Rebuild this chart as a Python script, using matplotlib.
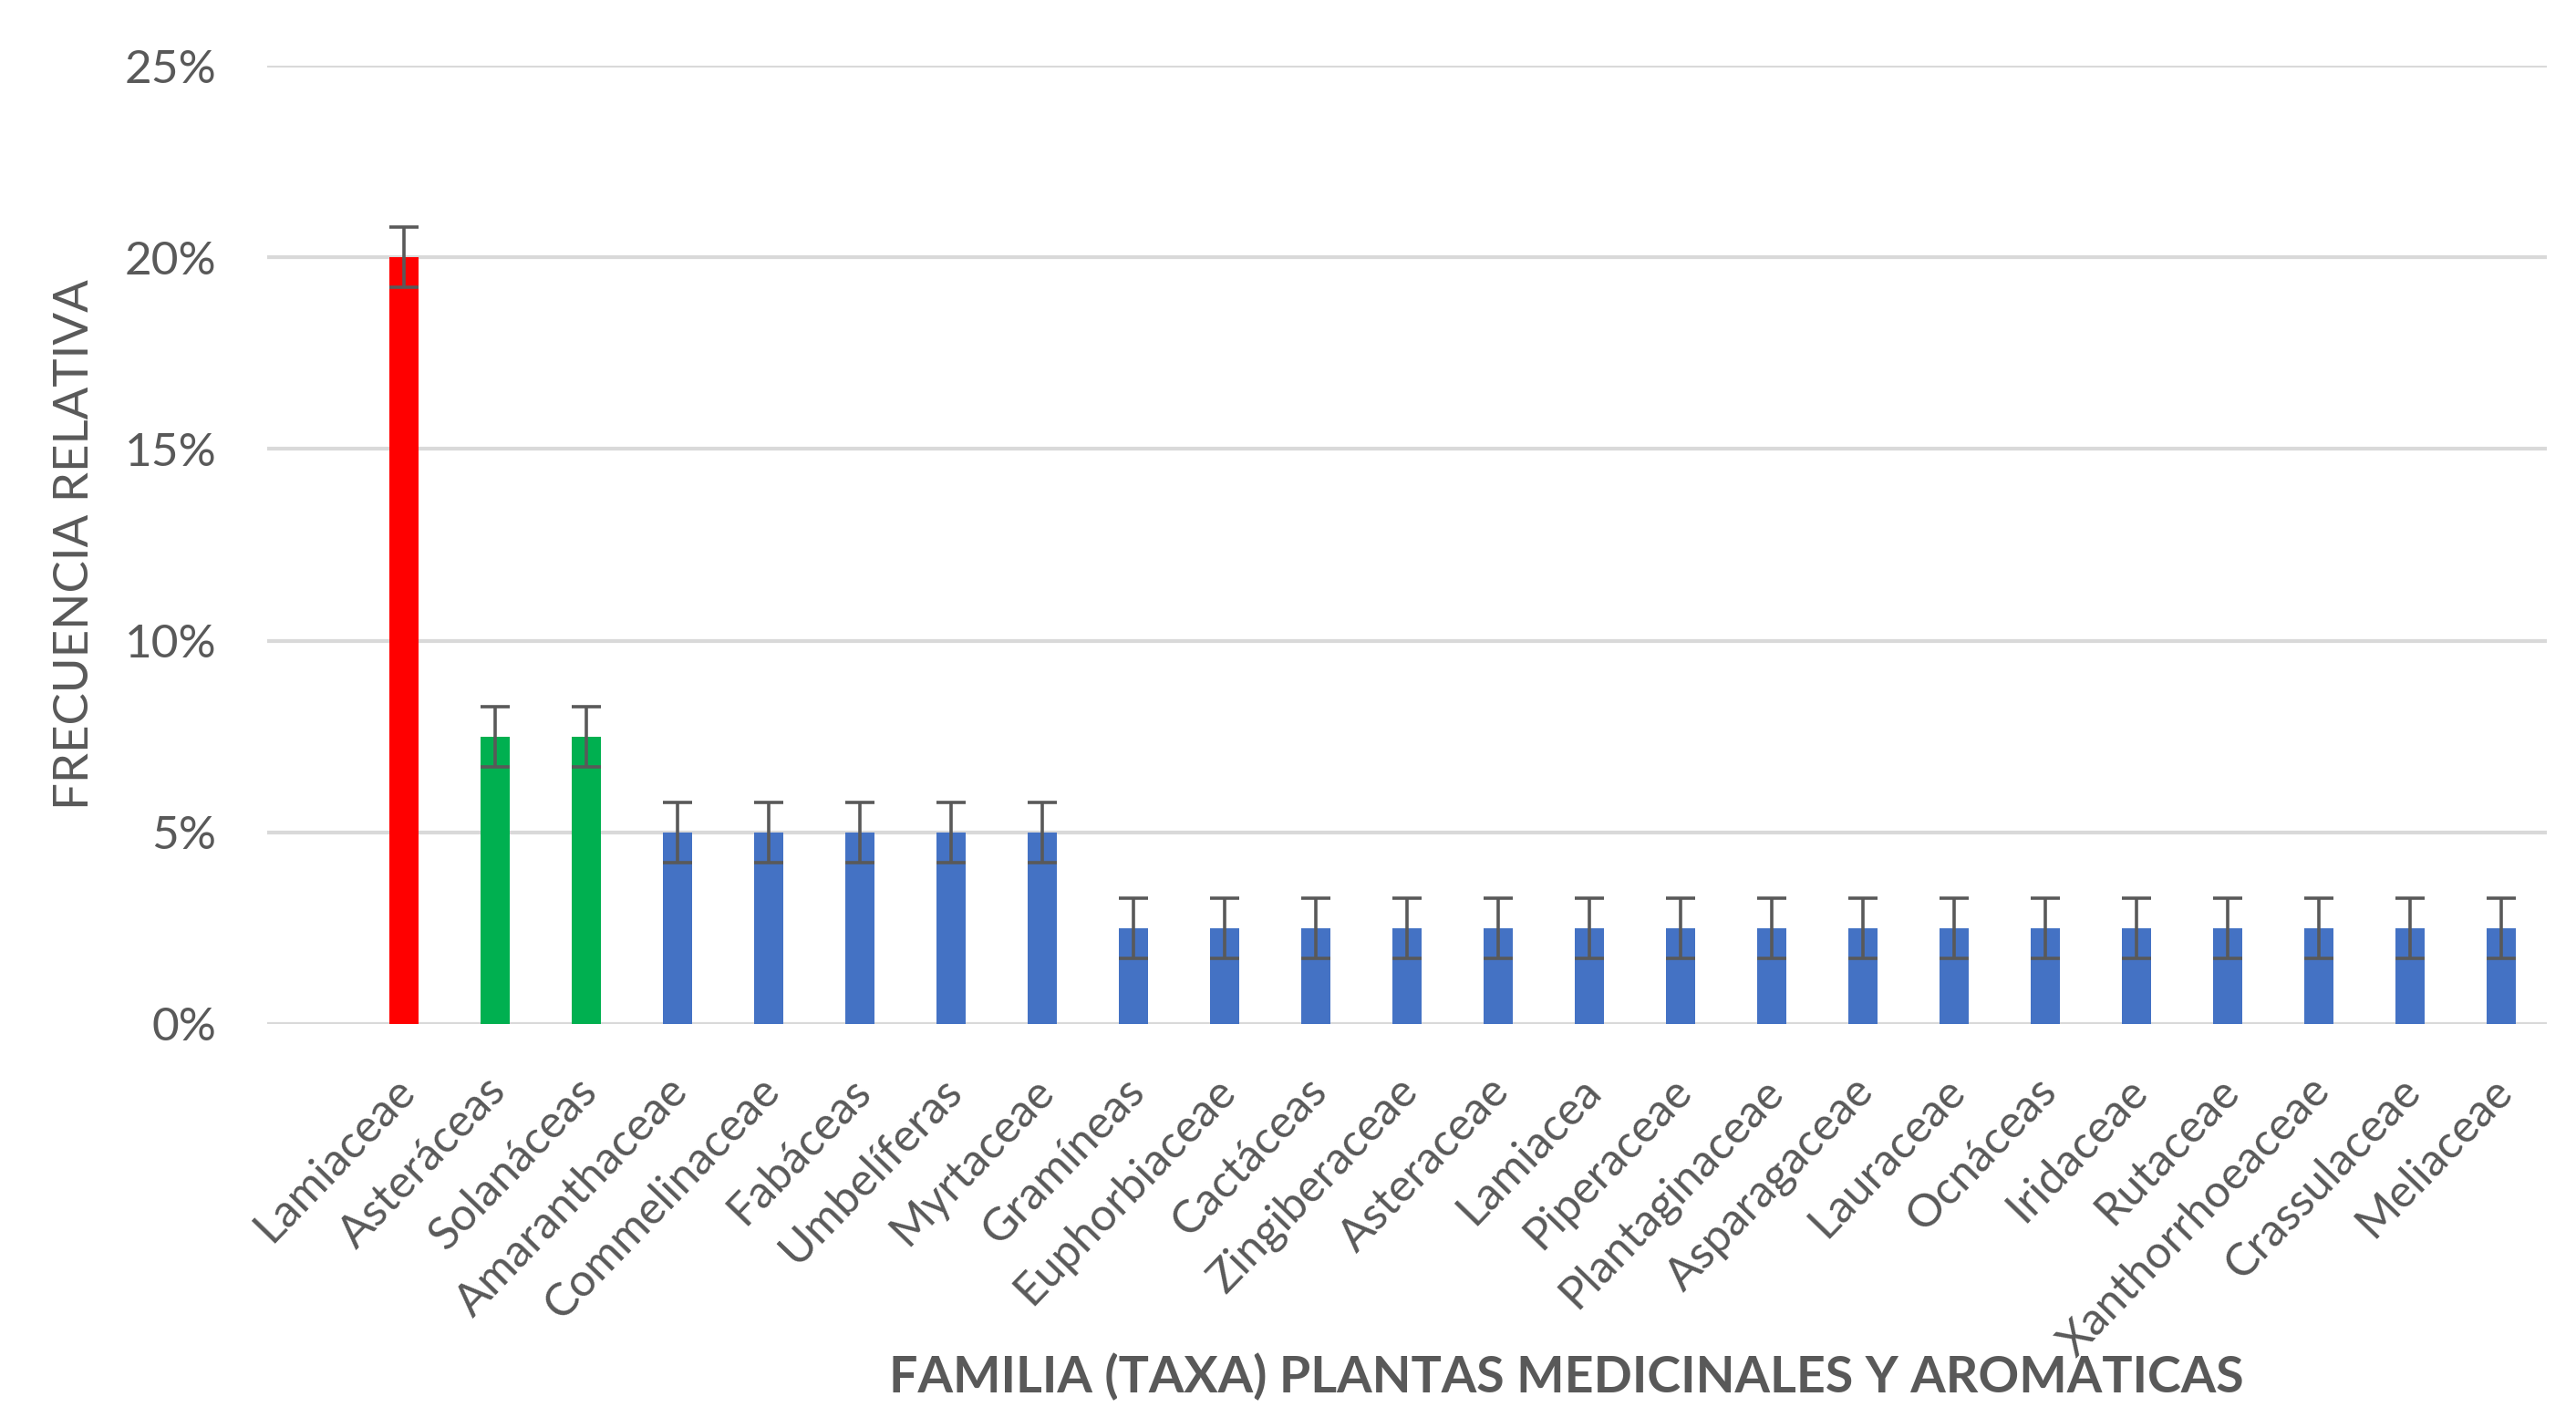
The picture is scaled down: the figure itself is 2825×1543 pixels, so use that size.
import numpy as np
import matplotlib
matplotlib.use('Agg')
import matplotlib.pyplot as plt
import matplotlib.transforms as mtransforms
from matplotlib.ticker import PercentFormatter

# Datos
familias = ['Lamiaceae', 'Asteráceas', 'Solanáceas', 'Amaranthaceae', 'Commelinaceae',
            'Fabáceas', 'Umbelíferas', 'Myrtaceae', 'Gramíneas', 'Euphorbiaceae',
            'Cactáceas', 'Zingiberaceae', 'Asteraceae', 'Lamiacea', 'Piperaceae',
            'Plantaginaceae', 'Asparagaceae', 'Lauraceae', 'Ocnáceas', 'Iridaceae',
            'Rutaceae', 'Xanthorrhoeaceae', 'Crassulaceae', 'Meliaceae']
frecuencia = [0.20, 0.075, 0.075, 0.05, 0.05, 0.05, 0.05, 0.05,
              0.025, 0.025, 0.025, 0.025, 0.025, 0.025, 0.025, 0.025,
              0.025, 0.025, 0.025, 0.025, 0.025, 0.025, 0.025, 0.025]
error = [0.0078] * 24
grupo = ['max'] + ['sec'] * 2 + ['resto'] * 21

COLORES = {'max': '#FF0000', 'sec': '#00B050', 'resto': '#4472C4'}
GRIS = '#595959'

plt.rcParams['font.family'] = ['Lato', 'DejaVu Sans']

fig = plt.figure(figsize=(28.25, 15.43), dpi=100)
ax = fig.add_axes([0.1037, 0.2722, 0.885, 0.6811])

x = np.arange(len(familias))
ax.bar(x, frecuencia, width=0.32, color=[COLORES[g] for g in grupo], zorder=3)
ax.errorbar(x, frecuencia, yerr=error, fmt='none', ecolor=GRIS,
            elinewidth=2.6, capsize=11.5, capthick=2.6, zorder=4)

ax.set_xlim(-1.5, 23.5)
ax.set_ylim(0, 0.25)
ax.set_yticks(np.arange(0, 0.26, 0.05))
ax.yaxis.set_major_formatter(PercentFormatter(1.0, decimals=0))
ax.grid(axis='y', color='#D9D9D9', linewidth=3, zorder=0)
for s in ax.spines.values():
    s.set_visible(False)

ax.set_xticks(x)
ax.set_xticklabels(familias, rotation=46, ha='right', rotation_mode='anchor',
                   fontsize=36, color=GRIS)
ax.tick_params(axis='x', length=0, pad=36)
ax.tick_params(axis='y', length=0, pad=40, labelsize=37, labelcolor=GRIS)
# pequeño corrimiento a la izquierda de las etiquetas rotadas
desplazar = mtransforms.ScaledTranslation(-0.12, 0, fig.dpi_scale_trans)
for lbl in ax.get_xticklabels():
    lbl.set_transform(lbl.get_transform() + desplazar)

ax.set_ylabel('FRECUENCIA RELATIVA', fontsize=38, color=GRIS, labelpad=22)
fig.text(0.608, 0.0214, 'FAMILIA (TAXA) PLANTAS MEDICINALES Y AROMATICAS',
         ha='center', va='center', fontsize=40, fontweight='bold', color=GRIS)

fig.savefig('out.png', dpi=100, facecolor='white')
